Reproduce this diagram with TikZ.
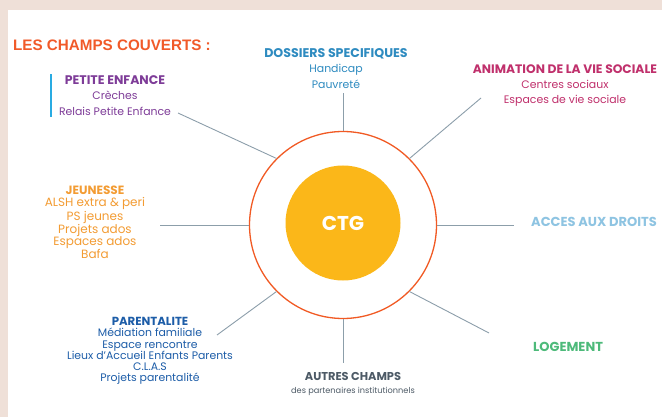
\documentclass[tikz,border=0pt]{standalone}
\usepackage{fontspec}
\setmainfont{Poppins}
\newfontfamily\titlefont{Liberation Sans}
\usepackage{tikz}
\usetikzlibrary{positioning}
\usepackage{xcolor}
\definecolor{bandcol}{HTML}{EFE0D8}
\definecolor{titlecol}{HTML}{F15A29}
\definecolor{ringcol}{HTML}{F15A24}
\definecolor{corecol}{HTML}{FBB719}
\definecolor{spokecol}{HTML}{8C9EAA}
\definecolor{pecol}{HTML}{7E3C98}
\definecolor{barcol}{HTML}{29ABE2}
\definecolor{dscol}{HTML}{2E8BC0}
\definecolor{avscol}{HTML}{C0306C}
\definecolor{jeucol}{HTML}{F39C33}
\definecolor{adcol}{HTML}{8EC4E2}
\definecolor{logcol}{HTML}{4DBA7A}
\definecolor{parcol}{HTML}{1D5DA8}
\definecolor{autcol}{HTML}{4D5A66}
\tikzset{
	ring/.style={draw=ringcol, line width=1.3pt, circle, inner sep=0pt},
	core/.style={fill=corecol, circle, inner sep=0pt, text=white, font=\bfseries\fontsize{20}{20}\selectfont},
	spoke/.style={draw=spokecol, line width=0.9pt},
	field/.style={align=center, inner sep=1pt, font=\fontsize{10.9}{15.5}\selectfont},
	fieldhead/.style={font=\bfseries\fontsize{13}{13}\selectfont}
}

\begin{document}
\begin{tikzpicture}[x=1pt, y=-1pt]
		\useasboundingbox (0,0) rectangle (662,417);
		\fill[bandcol] (0,0) rectangle (662,417);
		\fill[white] (8,10) rectangle (662,417);
		
		\node[anchor=west, inner sep=0pt, text=titlecol, font=\titlefont\bfseries\fontsize{15.2}{15.2}\selectfont] (titre) at (13,45) {LES CHAMPS COUVERTS :};
		
		\node[ring, minimum size=187pt] (ring) at (343,225) {};
		\node[core, minimum size=115pt] (ctg) at (343,223) {CTG};
		
		\node[field, text=pecol] (pe) at (115,95.5) {{\bfseries\fontsize{12.5}{15.5}\selectfont PETITE ENFANCE}\\Crèches\\Relais Petite Enfance};
		\node[field, text=dscol] (ds) at (336,68.5) {{\bfseries\fontsize{12.6}{15.5}\selectfont DOSSIERS SPECIFIQUES}\\Handicap\\Pauvreté};
		\node[field, text=avscol, font=\fontsize{10.9}{15}\selectfont] (avs) at (565,86) {{\bfseries\fontsize{12.3}{15}\selectfont ANIMATION DE LA VIE SOCIALE}\\Centres sociaux\\Espaces de vie sociale};
		\node[field, text=jeucol, font=\fontsize{12}{12.2}\selectfont] (jeu) at (95,222.5) {{\bfseries JEUNESSE}\\ALSH extra \& peri\\PS jeunes\\Projets ados\\Espaces ados\\Bafa};
		\node[field, text=parcol, font=\fontsize{10.9}{11.2}\selectfont] (par) at (150,351) {{\bfseries\fontsize{11.7}{11.2}\selectfont PARENTALITE}\\Médiation familiale\\Espace rencontre\\Lieux d'Accueil Enfants Parents\\C.L.A.S\\Projets parentalité};
		\node[field, text=autcol, font=\fontsize{8.2}{13}\selectfont] (aut) at (353,384.5) {{\bfseries\fontsize{11.4}{13}\selectfont AUTRES CHAMPS}\\des partenaires institutionnels};
		\node[anchor=west, inner sep=0pt, text=adcol, fieldhead] (ad) at (531,222) {ACCES AUX DROITS};
		\node[anchor=west, inner sep=0pt, text=logcol, fieldhead] (log) at (533,347) {LOGEMENT};
		
		\draw[draw=barcol, line width=1.6pt] ([xshift=-7pt]pe.north west) -- ([xshift=-7pt]pe.south west);
		
		\coordinate (pe-end) at (178,113);
		\coordinate (ds-end) at (343,93);
		\coordinate (avs-end) at (481,98);
		\coordinate (jeu-end) at (160,225);
		\coordinate (ad-end) at (514,225);
		\coordinate (par-end) at (217,335);
		\coordinate (aut-end) at (343,363);
		\coordinate (log-end) at (489,333);
		
		\draw[spoke] (ring.135) -- (pe-end);
		\draw[spoke] (ring.north) -- (ds-end);
		\draw[spoke] (ring.45) -- (avs-end);
		\draw[spoke] (ring.west) -- (jeu-end);
		\draw[spoke] (ring.east) -- (ad-end);
		\draw[spoke] (ring.225) -- (par-end);
		\draw[spoke] (ring.south) -- (aut-end);
		\draw[spoke] (ring.-45) -- (log-end);
	\end{tikzpicture}
\end{document}
